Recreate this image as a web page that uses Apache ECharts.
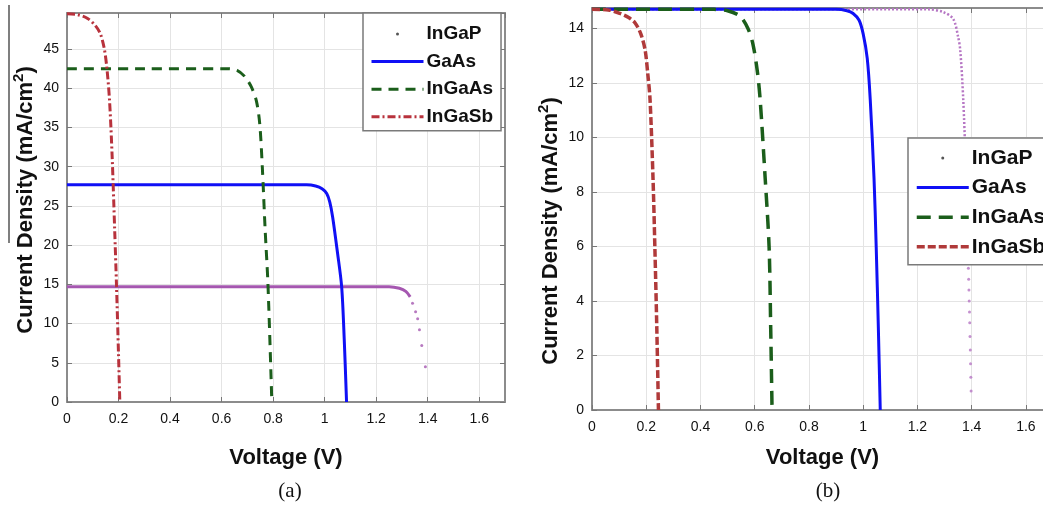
<!DOCTYPE html>
<html>
<head>
<meta charset="utf-8">
<script src="https://cdn.jsdelivr.net/npm/echarts@6/dist/echarts.min.js"></script>
<style>
  html, body { margin: 0; padding: 0; background: #fff; overflow: hidden; }
  /* panel (b) runs past the right edge of the page, so the canvas is a little wider than the window */
  #chart { width: 1053px; height: 505px; }
</style>
</head>
<body>
<div id="chart"></div>
<script>
// J–V curves of four sub-cells, [voltage (V), current density (mA/cm2)]
const cellNames = ['InGaP', 'GaAs', 'InGaAs', 'InGaSb'];

// Panel (a): cells under their own spectra
const aInGaPCurve = [[0, 14.7], [0.6, 14.7], [1.25, 14.7], [1.29, 14.5], [1.315, 14.1], [1.332, 13.4]];
const aInGaPDots = [[1.341, 12.6], [1.353, 11.5], [1.361, 10.6], [1.368, 9.2], [1.377, 7.2], [1.391, 4.5]];
const aGaAs = [[0, 27.7], [0.5, 27.7], [0.93, 27.7], [0.965, 27.55], [0.99, 27.2], [1.008, 26.6], [1.02, 25.5],
  [1.031, 23.6], [1.05, 19.0], [1.066, 14.7], [1.076, 8.0], [1.085, 0]];
const aInGaAs = [[0, 42.5], [0.3, 42.5], [0.62, 42.5], [0.66, 42.3], [0.69, 41.5], [0.715, 40.2], [0.735, 38.4],
  [0.748, 35.5], [0.758, 30.0], [0.769, 22.0], [0.78, 15.0], [0.795, 0]];
const aInGaSb = [[0, 49.5], [0.04, 49.4], [0.08, 48.9], [0.11, 48.0], [0.13, 46.9], [0.145, 45.0], [0.155, 42.5],
  [0.165, 38.5], [0.175, 31.5], [0.185, 22.0], [0.192, 15.0], [0.2, 6.0], [0.205, 0]];

// Panel (b): current-matched cells
const bInGaPCurve = [[0, 14.7], [0.7, 14.7], [1.24, 14.7], [1.295, 14.6], [1.332, 14.35], [1.35, 13.7],
  [1.358, 13.2], [1.369, 11.4], [1.378, 9.0], [1.384, 7.0], [1.387, 5.6]];
const bInGaPDots = [[1.388, 5.2], [1.389, 4.8], [1.39, 4.4], [1.391, 4.0], [1.392, 3.6], [1.393, 3.2],
  [1.394, 2.7], [1.395, 2.2], [1.396, 1.7], [1.397, 1.2], [1.398, 0.7]];
const bGaAs = [[0, 14.7], [0.5, 14.7], [0.9, 14.7], [0.94, 14.65], [0.963, 14.55], [0.985, 14.3], [1.0, 13.8],
  [1.015, 12.9], [1.026, 11.4], [1.04, 8.5], [1.048, 6.0], [1.056, 3.0], [1.063, 0]];
const bInGaAs = [[0, 14.7], [0.25, 14.7], [0.45, 14.7], [0.5, 14.65], [0.546, 14.45], [0.575, 14.0], [0.594, 13.4],
  [0.61, 12.4], [0.62, 11.4], [0.638, 8.6], [0.653, 6.0], [0.659, 3.0], [0.664, 0]];
const bInGaSb = [[0, 14.7], [0.06, 14.68], [0.103, 14.55], [0.135, 14.4], [0.159, 14.2], [0.18, 13.8],
  [0.196, 13.2], [0.206, 12.3], [0.214, 11.4], [0.225, 8.5], [0.232, 5.9], [0.239, 3.0], [0.245, 0]];

// Axis ranges and tick spacing
const voltageMax = 1.7, voltageStep = 0.2;
const aCurrentMax = 49.6, aCurrentStep = 5;
const bCurrentMax = 14.75, bCurrentStep = 2;

const FONT = 'Liberation Sans, Arial, sans-serif';
const colors = { InGaP: '#a557b0', InGaPb: '#b676c4', GaAs: '#1010f5', InGaAs: '#1b5e1b', InGaSb: '#b8323c', InGaSbB: '#b03a3a' };
const frameColor = '#8c8c8c';
const gridColor = '#e4e4e4';

// line styles per panel, shared by the curves and their legend keys
const styleA = {
  GaAs: { color: colors.GaAs, width: 3, type: 'solid' },
  InGaAs: { color: colors.InGaAs, width: 3, type: [10, 7] },
  InGaSb: { color: colors.InGaSb, width: 3, type: [8, 3, 2, 3] }
};
const styleB = {
  GaAs: { color: colors.GaAs, width: 3, type: 'solid' },
  InGaAs: { color: colors.InGaAs, width: 3.5, type: [14, 8] },
  InGaSb: { color: colors.InGaSbB, width: 3.5, type: [8, 3] }
};

function bottomAxis(gridIndex, nameGap) {
  return {
    type: 'value', gridIndex, min: 0, max: voltageMax, interval: voltageStep, position: 'bottom',
    name: 'Voltage (V)', nameLocation: 'middle', nameGap,
    nameTextStyle: { fontSize: 22, fontWeight: 'bold', color: '#111', fontFamily: FONT },
    axisLine: { onZero: false, lineStyle: { color: frameColor, width: 2 } },
    axisTick: { inside: true, length: 5, lineStyle: { color: '#777' } },
    axisLabel: { fontSize: 14, color: '#111', margin: 10, fontFamily: FONT, showMaxLabel: false },
    splitLine: { show: true, lineStyle: { color: gridColor, width: 1 } }
  };
}
function topAxis(gridIndex) {
  return {
    type: 'value', gridIndex, min: 0, max: voltageMax, interval: voltageStep, position: 'top',
    axisLine: { onZero: false, lineStyle: { color: frameColor, width: 2 } },
    axisTick: { inside: true, length: 5, lineStyle: { color: '#777' } },
    axisLabel: { show: false }, splitLine: { show: false }
  };
}
function leftAxis(gridIndex, max, step) {
  return {
    type: 'value', gridIndex, min: 0, max, interval: step, position: 'left',
    axisLine: { show: true, onZero: false, lineStyle: { color: frameColor, width: 2 } },
    axisTick: { show: true, inside: true, length: 5, lineStyle: { color: '#777' } },
    axisLabel: { fontSize: 14, color: '#111', margin: 8, fontFamily: FONT, showMaxLabel: false },
    splitLine: { show: true, lineStyle: { color: gridColor, width: 1 } }
  };
}
function rightAxis(gridIndex, max, step) {
  return {
    type: 'value', gridIndex, min: 0, max, interval: step, position: 'right',
    axisLine: { show: true, onZero: false, lineStyle: { color: frameColor, width: 2 } },
    axisTick: { show: true, inside: true, length: 5, lineStyle: { color: '#777' } },
    axisLabel: { show: false }, splitLine: { show: false }
  };
}

function curve(name, data, axisIdx, ls) {
  return {
    name, type: 'line', xAxisIndex: axisIdx, yAxisIndex: axisIdx, data,
    symbol: 'none', smooth: 0.3, clip: true, z: 3,
    lineStyle: { color: ls.color, width: ls.width, type: ls.type, cap: 'butt' }, itemStyle: { color: ls.color }
  };
}
function dots(name, data, axisIdx, color) {
  return {
    name, type: 'scatter', xAxisIndex: axisIdx, yAxisIndex: axisIdx, data,
    symbol: 'circle', symbolSize: 3, itemStyle: { color }, z: 3
  };
}

function legendFor(left, top, fontSize, lineHeight, itemGap, padding, styles) {
  return {
    orient: 'vertical', left, top, padding, itemGap, itemWidth: 52, itemHeight: 3,
    selectedMode: false, backgroundColor: '#fff', borderColor: '#7a7a7a', borderWidth: 1.5, borderRadius: 0,
    textStyle: { fontSize, fontWeight: 'bold', color: '#111', fontFamily: FONT, lineHeight, padding: [0, 0, 0, -2] },
    data: cellNames.map(n => n === 'InGaP'
      ? { name: n, icon: 'circle', itemStyle: { color: '#555' } }
      : {
          name: n,
          itemStyle: { color: 'rgba(0,0,0,0)', borderWidth: 0 },
          lineStyle: { color: styles[n].color, width: styles[n].width, type: styles[n].type, cap: 'butt' }
        })
  };
}

function yTitle(x, y) {
  return {
    type: 'text', x, y, rotation: Math.PI / 2,
    style: {
      text: 'Current Density (mA/cm{sup|2})', align: 'center', verticalAlign: 'middle',
      fontSize: 22, fontWeight: 'bold', fontFamily: FONT, fill: '#111', lineHeight: 30,
      rich: { sup: { fontSize: 15, fontWeight: 'bold', fontFamily: FONT, fill: '#111', lineHeight: 14, verticalAlign: 'top' } }
    }
  };
}

const chart = echarts.init(document.getElementById('chart'), null, { renderer: 'canvas' });
chart.setOption({
  animation: false,
  backgroundColor: '#fff',
  grid: [
    { left: 67, top: 13, width: 438, height: 389 },
    { left: 592, top: 8, width: 461, height: 402 }
  ],
  xAxis: [bottomAxis(0, 45), bottomAxis(1, 37), topAxis(0), topAxis(1)],
  yAxis: [leftAxis(0, aCurrentMax, aCurrentStep), leftAxis(1, bCurrentMax, bCurrentStep),
          rightAxis(0, aCurrentMax, aCurrentStep), rightAxis(1, bCurrentMax, bCurrentStep)],
  legend: [
    legendFor(363, 13, 19, 20, 7.6, [11, 8, 4, 7], styleA),
    legendFor(908, 138, 21, 22, 7.6, [9, 8, 7, 7], styleB)
  ],
  series: [
    curve('InGaP', aInGaPCurve, 0, { color: colors.InGaP, width: 3, type: 'solid' }),
    dots('InGaP', aInGaPDots, 0, colors.InGaP),
    curve('GaAs', aGaAs, 0, styleA.GaAs),
    curve('InGaAs', aInGaAs, 0, styleA.InGaAs),
    curve('InGaSb', aInGaSb, 0, styleA.InGaSb),

    curve('InGaP', bInGaPCurve, 1, { color: colors.InGaPb, width: 2.5, type: [2, 2] }),
    dots('InGaP', bInGaPDots, 1, colors.InGaPb),
    curve('GaAs', bGaAs, 1, styleB.GaAs),
    curve('InGaAs', bInGaAs, 1, styleB.InGaAs),
    curve('InGaSb', bInGaSb, 1, styleB.InGaSb)
  ],
  graphic: [
    yTitle(26, 200),
    yTitle(551, 231),
    {
      type: 'text', x: 290, y: 491,
      style: { text: '(a)', align: 'center', verticalAlign: 'middle', fontSize: 21, fontFamily: 'Liberation Serif, serif', fill: '#111' }
    },
    {
      type: 'text', x: 828, y: 491,
      style: { text: '(b)', align: 'center', verticalAlign: 'middle', fontSize: 21, fontFamily: 'Liberation Serif, serif', fill: '#111' }
    },
    {
      type: 'line', shape: { x1: 9, y1: 5, x2: 9, y2: 243 },
      style: { stroke: '#555', lineWidth: 1.5 }
    }
  ]
});
</script>
</body>
</html>
